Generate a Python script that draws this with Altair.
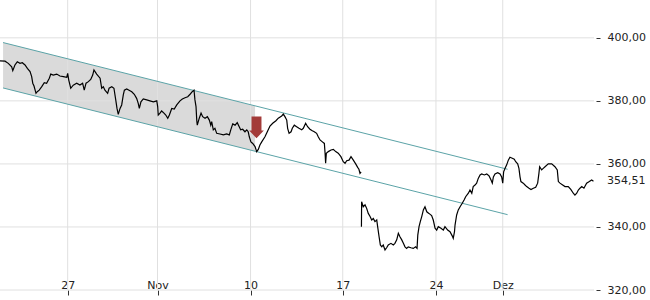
import altair as alt
import pandas as pd

# ---------------- data (x = trading-day position, y = price) ----------------
seg1 = [(0.00,392.7),(0.28,392.6),(0.46,391.9),(0.65,390.8),(0.71,389.6),(0.83,391.4),(0.96,392.4),(1.11,391.9),(1.24,392.1),(1.39,391.4),(1.52,390.3),(1.67,389.3),(1.76,387.7),(1.82,385.6),(1.89,384.7),(2.00,382.4),(2.07,382.9),(2.18,383.4),(2.32,384.5),(2.46,385.8),(2.59,385.6),(2.74,387.2),(2.82,388.5),(2.96,388.2),(3.15,388.5),(3.33,387.9),(3.52,387.7),(3.71,387.5),(3.76,388.7),(3.82,386.6),(3.93,384.0),(4.07,385.0),(4.26,385.6),(4.44,385.0),(4.59,385.6),(4.68,383.4),(4.78,385.6),(4.91,386.1),(5.04,386.8),(5.15,388.2),(5.22,389.8),(5.37,388.5),(5.56,387.2),(5.65,384.0),(5.74,384.5),(5.83,383.4),(5.98,382.4),(6.06,384.0),(6.21,384.5),(6.33,384.0),(6.43,380.3),(6.50,377.6),(6.57,375.7),(6.67,377.6),(6.76,378.7),(6.85,381.9),(6.91,383.4),(7.04,383.8),(7.17,383.4),(7.32,382.9),(7.46,382.1),(7.59,380.8),(7.68,379.2),(7.74,377.6),(7.83,379.7),(7.96,380.6),(8.15,380.3),(8.33,380.0),(8.52,379.7),(8.71,380.0),(8.76,378.2),(8.79,375.5),(8.89,376.1),(8.98,376.8),(9.11,376.1),(9.21,375.5),(9.32,374.5),(9.41,375.5),(9.54,377.6),(9.68,377.4),(9.82,378.7),(10.00,380.0),(10.13,380.6),(10.28,381.0),(10.43,381.3),(10.56,382.1),(10.68,382.9),(10.78,383.4),(10.83,380.3),(10.89,378.2),(10.93,373.9),(10.96,372.3),(11.07,374.5),(11.17,376.1),(11.26,375.0),(11.39,374.5),(11.52,375.0),(11.63,373.9),(11.71,372.3),(11.76,373.4),(11.85,370.8),(11.94,371.3),(12.04,369.7),(12.22,369.5),(12.41,369.2),(12.59,369.5),(12.74,369.2),(12.82,370.8),(12.93,372.7),(13.06,372.3),(13.18,373.1),(13.29,371.8),(13.37,370.8),(13.48,371.0),(13.61,370.2),(13.71,370.8),(13.79,370.2),(13.85,368.6),(13.94,367.0),(14.04,366.5),(14.17,365.5),(14.26,363.9),(14.35,364.6),(14.44,366.0),(14.54,367.0),(14.72,368.6),(14.85,370.2),(15.00,372.0),(15.15,372.9),(15.33,373.7),(15.46,374.5),(15.65,375.2),(15.74,375.8),(15.83,375.0),(15.93,373.9),(15.98,371.3),(16.06,369.7),(16.17,370.2),(16.24,371.3),(16.35,372.3),(16.48,371.8),(16.61,371.3),(16.76,370.8),(16.85,371.3),(16.98,372.9),(17.09,371.8),(17.22,371.0),(17.35,370.5),(17.46,370.2),(17.59,369.7),(17.68,368.6),(17.78,367.6),(17.91,367.0),(18.02,366.5),(18.06,363.4),(18.09,360.2),(18.13,363.4),(18.24,363.9),(18.39,364.4),(18.52,364.6),(18.65,363.9),(18.79,363.4),(18.94,362.3),(19.07,360.7),(19.17,360.2),(19.26,361.0),(19.39,361.2),(19.50,362.3),(19.63,361.2),(19.76,360.0),(19.87,358.9),(19.94,358.3),(20.00,357.0),(20.06,357.5)]

seg2 = [(20.08,340.1),(20.09,348.0),(20.18,346.4),(20.28,347.0),(20.37,345.9),(20.46,344.3),(20.56,343.3),(20.65,342.2),(20.74,342.7),(20.83,341.7),(20.93,342.2),(20.98,340.1),(21.06,336.9),(21.13,334.3),(21.21,333.7),(21.29,334.3),(21.39,332.7),(21.48,333.4),(21.57,334.3),(21.72,334.8),(21.85,334.3),(21.94,334.8),(22.04,335.9),(22.13,338.0),(22.22,336.9),(22.32,335.9),(22.41,334.8),(22.50,333.7),(22.59,333.2),(22.68,333.7),(22.83,333.4),(22.96,333.2),(23.09,333.7),(23.17,333.2),(23.21,337.4),(23.28,340.1),(23.35,341.7),(23.43,343.3),(23.52,345.4),(23.61,346.4),(23.71,344.8),(23.83,344.3),(23.98,343.6),(24.07,342.2),(24.17,339.6),(24.26,339.0),(24.35,340.1),(24.50,339.6),(24.63,339.0),(24.72,340.1),(24.87,339.0),(25.00,338.5),(25.13,337.1),(25.18,336.4),(25.25,338.5),(25.28,340.6),(25.37,343.8),(25.46,345.4),(25.56,346.4),(25.68,347.5),(25.79,348.6),(25.87,349.6),(26.02,350.7),(26.11,351.7),(26.21,350.7),(26.29,352.8),(26.39,353.3),(26.48,353.9),(26.57,355.4),(26.67,356.5),(26.76,356.8),(26.91,356.5),(27.04,356.8),(27.17,356.2),(27.28,354.9),(27.35,353.9),(27.41,355.9),(27.50,356.8),(27.65,357.2),(27.78,356.8),(27.87,355.9),(27.93,353.9),(27.98,357.5),(28.06,358.6),(28.15,359.7),(28.24,361.2),(28.33,362.1),(28.46,361.8),(28.57,361.5),(28.65,360.7),(28.76,360.0),(28.83,358.6),(28.89,355.9),(28.94,354.4),(29.07,353.9),(29.17,353.3),(29.26,352.8),(29.39,352.3),(29.50,351.9),(29.63,352.3),(29.76,352.6),(29.87,353.9),(29.94,357.0),(29.98,359.1),(30.09,358.1),(30.18,358.6),(30.28,359.1),(30.46,360.0),(30.65,360.0),(30.83,359.1),(30.96,358.1),(31.02,354.4),(31.11,353.9),(31.26,353.3),(31.39,352.8),(31.57,352.8),(31.71,351.9),(31.85,350.7),(31.94,350.1),(32.04,350.7),(32.13,351.7),(32.22,352.3),(32.32,352.8),(32.44,352.3),(32.59,353.9),(32.74,354.4),(32.87,354.9),(32.97,354.5)]

channel_t = [0.17, 28.2]
channel_upper = [398.5, 358.3]
channel_lower = [384.1, 343.9]

shade_t = [0.17, 14.17]
shade_upper = [398.5, 378.4]
shade_lower = [384.1, 364.0]

signal_t = [14.25]
signal_price = [371.6]

x_tick_values = [3.76, 8.75, 13.92, 19.04, 24.22, 27.93]
x_tick_labels = ["27", "Nov", "10", "17", "24", "Dez"]
y_tick_values = [320, 340, 360, 380, 400]
last_price = 354.51

# ---------------- styling ----------------
FONT = "DejaVu Sans"
GRID = "#e0e0e0"
SHADE = "#dadada"
TEAL = "#5ba3a7"
ARROW = "#a33b39"
ARROW_PATH = "M -0.46 -1 L 0.46 -1 L 0.46 0.3 L 0.68 0.3 L 0 1 L -0.68 0.3 L -0.46 0.3 Z"

xscale = alt.Scale(domain=[0, 33], nice=False, zero=False)
yscale = alt.Scale(domain=[320, 412], nice=False, zero=False)

label_expr = ""
for v, lab in zip(x_tick_values, x_tick_labels):
    label_expr += f"datum.value == {v} ? '{lab}' : "
label_expr += "''"

xaxis = alt.Axis(values=x_tick_values, labelExpr=label_expr, grid=False, domain=False,
                 ticks=True, tickSize=5, tickColor="#333333", labelPadding=-7,
                 labelBaseline="alphabetic", labelFont=FONT, labelFontSize=11,
                 labelColor="#222222", labelOverlap=False, labelFlush=False, title=None)
yaxis = alt.Axis(orient="right", values=y_tick_values,
                 labelExpr="replace(format(datum.value, '.2f'), '.', ',')",
                 grid=False, domain=False, ticks=True, tickSize=4, offset=2,
                 tickColor="#333333", labelPadding=7, labelFont=FONT, labelFontSize=11,
                 labelColor="#222222", labelOverlap=False, labelFlush=False, title=None)

X = alt.X("t:Q", scale=xscale, axis=xaxis)
Y = alt.Y("price:Q", scale=yscale, axis=yaxis)

# ---------------- frames ----------------
line_df = pd.DataFrame(
    [{"t": t, "price": p, "seg": "a"} for t, p in seg1]
    + [{"t": t, "price": p, "seg": "b"} for t, p in seg2]
)
chan_df = pd.DataFrame(
    [{"t": t, "price": p, "line": "upper"} for t, p in zip(channel_t, channel_upper)]
    + [{"t": t, "price": p, "line": "lower"} for t, p in zip(channel_t, channel_lower)]
)
shade_df = pd.DataFrame({"t": shade_t, "price": shade_upper, "price2": shade_lower})
vgrid_df = pd.DataFrame({"t": x_tick_values})
hgrid_df = pd.DataFrame({"price": y_tick_values})
arrow_df = pd.DataFrame({"t": signal_t, "price": signal_price})
last_df = pd.DataFrame({"price": [last_price],
                        "label": [f"{last_price:.2f}".replace(".", ",")]})

shade = alt.Chart(shade_df).mark_area(color=SHADE, opacity=1).encode(
    x=X, y=Y, y2=alt.Y2("price2:Q"))
vgrid = alt.Chart(vgrid_df).mark_rule(color=GRID, strokeWidth=1).encode(x=X)
hgrid = alt.Chart(hgrid_df).mark_rule(color=GRID, strokeWidth=1).encode(y=Y)
channel = alt.Chart(chan_df).mark_line(color=TEAL, strokeWidth=1).encode(
    x=X, y=Y, detail="line:N")
price = alt.Chart(line_df).mark_line(color="#000000", strokeWidth=1.2).encode(
    x=X, y=Y, detail="seg:N")
arrow = alt.Chart(arrow_df).mark_point(shape=ARROW_PATH, filled=True, color=ARROW,
                                       opacity=1, size=467, strokeWidth=0).encode(x=X, y=Y)
last = alt.Chart(last_df).mark_text(align="left", baseline="middle", font=FONT,
                                    fontSize=11, color="#222222").encode(
    x=alt.value(607), y=Y, text="label:N")

chart = alt.layer(shade, vgrid, hgrid, channel, price, arrow, last).properties(
    width=594, height=290,
    padding={"left": 0, "top": 0, "right": 56, "bottom": 10},
    autosize=alt.AutoSizeParams(type="none"),
).configure(background="white").configure_view(stroke=None, strokeWidth=0)

chart.save("out.html", embed_options={"renderer": "svg", "actions": False})
